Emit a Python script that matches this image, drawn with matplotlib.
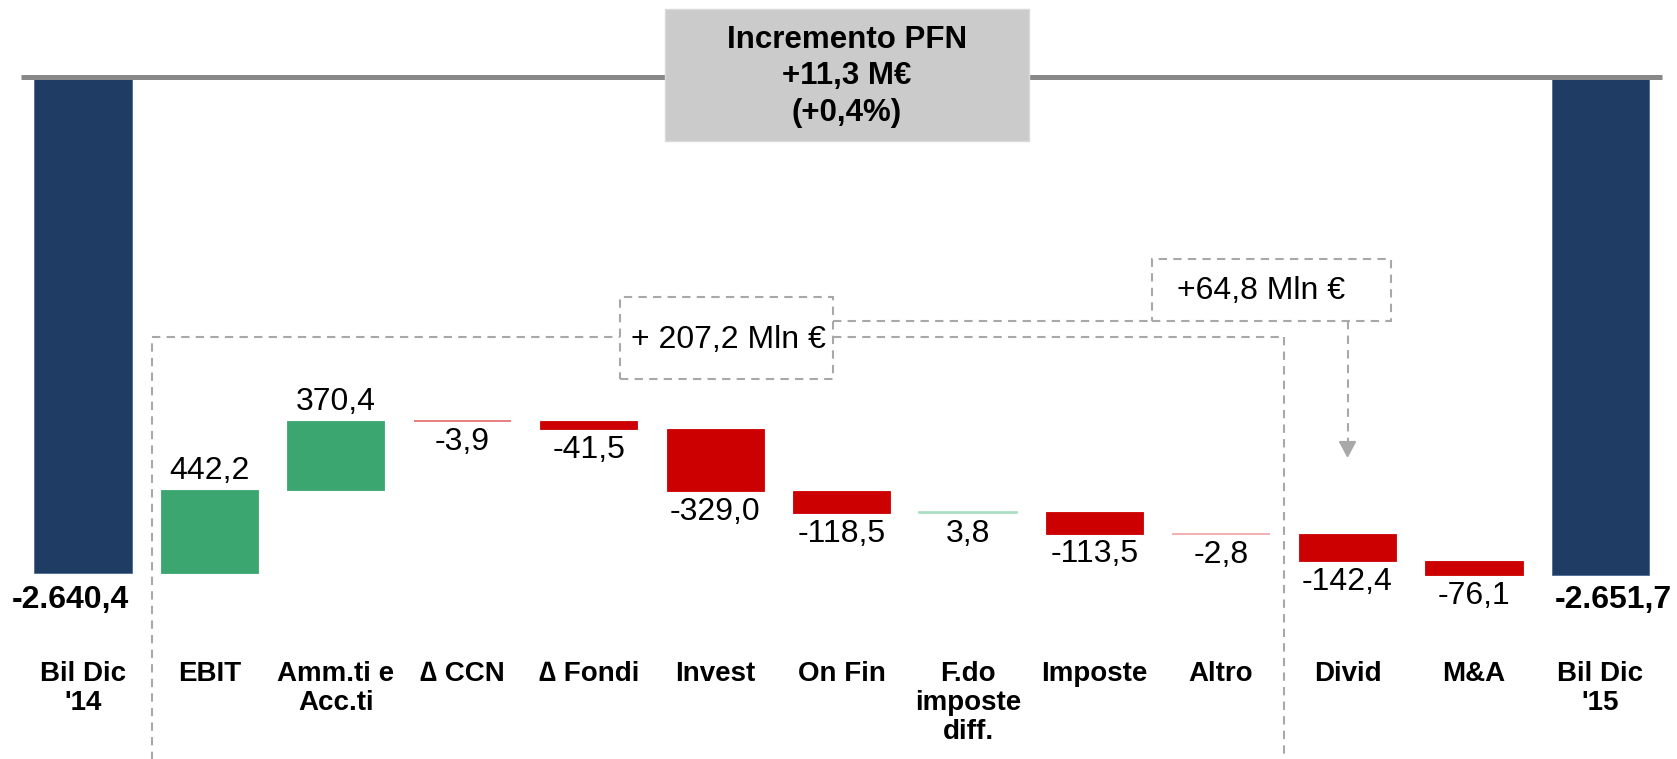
import matplotlib
matplotlib.use("Agg")
import matplotlib.pyplot as plt
from matplotlib.patches import Rectangle, Polygon

# ---------------- data ----------------
categories = ["Bil Dic\n'14", "EBIT", "Amm.ti e\nAcc.ti", "\u2206 CCN", "\u2206 Fondi",
              "Invest", "On Fin", "F.do\nimposte\ndiff.", "Imposte", "Altro",
              "Divid", "M&A", "Bil Dic\n'15"]
start_total = -2640.4
deltas = [442.2, 370.4, -3.9, -41.5, -329.0, -118.5, 3.8, -113.5, -2.8, -142.4, -76.1]
end_total = -2651.7
# label placement: True = above the bar, False = below
label_above = [True, True, False, False, False, False, False, False, False, False, False]
title_lines = ["Incremento PFN", "+11,3 M\u20ac", "(+0,4%)"]
bracket_text = "+ 207,2 Mln \u20ac"
arrow_text = "+64,8 Mln \u20ac"

# ---------------- style ----------------
BLUE = "#1F3D64"
GREEN = "#3BA66F"
RED = "#CC0000"
FAINT_RED = "#E26A6A"
FAINT_GREEN = "#A8DDBF"
FAINT_PINK = "#F2A2A2"
LINE_GRAY = "#898989"
DASH_GRAY = "#A8A8A8"
BOX_GRAY = "#CBCBCB"
FONT = ["Liberation Sans", "DejaVu Sans"]

plt.rcParams["font.family"] = FONT

fig = plt.figure(figsize=(16.77, 7.59), dpi=100)
ax = fig.add_axes([0, 0, 1, 1])
ax.axis("off")
ax.set_xlim(-0.655, 12.605)
ax.set_ylim(-3629, 410)

def it(v):
    s = f"{abs(v):,.1f}".replace(",", "X").replace(".", ",").replace("X", ".")
    return ("-" if v < 0 else "") + s

n = len(categories)
xs = list(range(n))
W = 0.77

# totals
for x, v in [(0, start_total), (n - 1, end_total)]:
    ax.bar(x, v, bottom=0, width=W, color=BLUE, edgecolor="#4A6A92", linewidth=0.6, zorder=2)

# deltas
cum = start_total
for i, d in enumerate(deltas):
    x = i + 1
    base = cum
    cum = cum + d
    lo, hi = min(base, cum), max(base, cum)
    if abs(d) < 10:
        col = FAINT_GREEN if d > 0 else (FAINT_RED if i == 2 else FAINT_PINK)
        ax.bar(x, hi - lo, bottom=lo, width=W, color=col, edgecolor=col, linewidth=1.2, zorder=2)
    else:
        col = GREEN if d > 0 else RED
        ax.bar(x, hi - lo, bottom=lo, width=W, color=col, edgecolor=col, linewidth=0.6, zorder=2)
    if label_above[i]:
        ax.text(x, hi + 100, it(d), ha="center", va="center", fontsize=23, zorder=5)
    else:
        ax.text(x, lo - 110, it(d), ha="center", va="center", fontsize=23, zorder=5)

# total labels
ax.text(-0.10, -2783, it(start_total), ha="center", va="center", fontsize=23,
        fontweight="bold", zorder=5)
ax.text(12.10, -2783, it(end_total), ha="center", va="center", fontsize=23,
        fontweight="bold", zorder=5)

# category labels
for x, c in zip(xs, categories):
    ax.text(x, -3105, c, ha="center", va="top", fontsize=20, fontweight="bold",
            linespacing=1.15, zorder=5)

# top zero line
ax.plot([-0.49, 12.49], [0, 0], color=LINE_GRAY, linewidth=3.6, solid_capstyle="butt", zorder=3)

# title box
ax.add_patch(Rectangle((4.60, -341), 2.88, 705, facecolor=BOX_GRAY, edgecolor="#DADADA",
                       linewidth=1, zorder=4))
ax.text(6.04, 3, "\n".join(title_lines), ha="center", va="center", fontsize=22.5,
        fontweight="bold", linespacing=1.27, zorder=5)

# dashed bracket
dash = dict(color=DASH_GRAY, linewidth=1.5, linestyle=(0, (4, 3)), zorder=1)
yb = -1382
ax.plot([0.549, 0.549], [-3800, yb], **dash)
ax.plot([0.549, 4.249], [yb, yb], **dash)
ax.plot([5.933, 9.501], [yb, yb], **dash)
ax.plot([9.501, 9.501], [yb, -3800], **dash)
ax.add_patch(Rectangle((4.249, -1609), 5.933 - 4.249, 1609 - 1169, fill=False,
                       edgecolor=DASH_GRAY, linewidth=1.5, linestyle=(0, (4, 3)), zorder=1))
ax.text(5.104, -1400, bracket_text, ha="center", va="center", fontsize=23, zorder=5)

# second box and arrow
ax.plot([5.933, 8.456], [-1300, -1300], **dash)
ax.add_patch(Rectangle((8.456, -1300), 10.342 - 8.456, 1300 - 967, fill=False,
                       edgecolor=DASH_GRAY, linewidth=1.5, linestyle=(0, (4, 3)), zorder=1))
ax.text(9.313, -1137, arrow_text, ha="center", va="center", fontsize=23, zorder=5)
ax.plot([10.0, 10.0], [-1300, -1945], **dash)
ax.add_patch(Polygon([(10 - 0.063, -1940), (10 + 0.063, -1940), (10, -2020)],
                     closed=True, facecolor=DASH_GRAY, edgecolor=DASH_GRAY, zorder=2))

fig.savefig("out.png", dpi=100)
